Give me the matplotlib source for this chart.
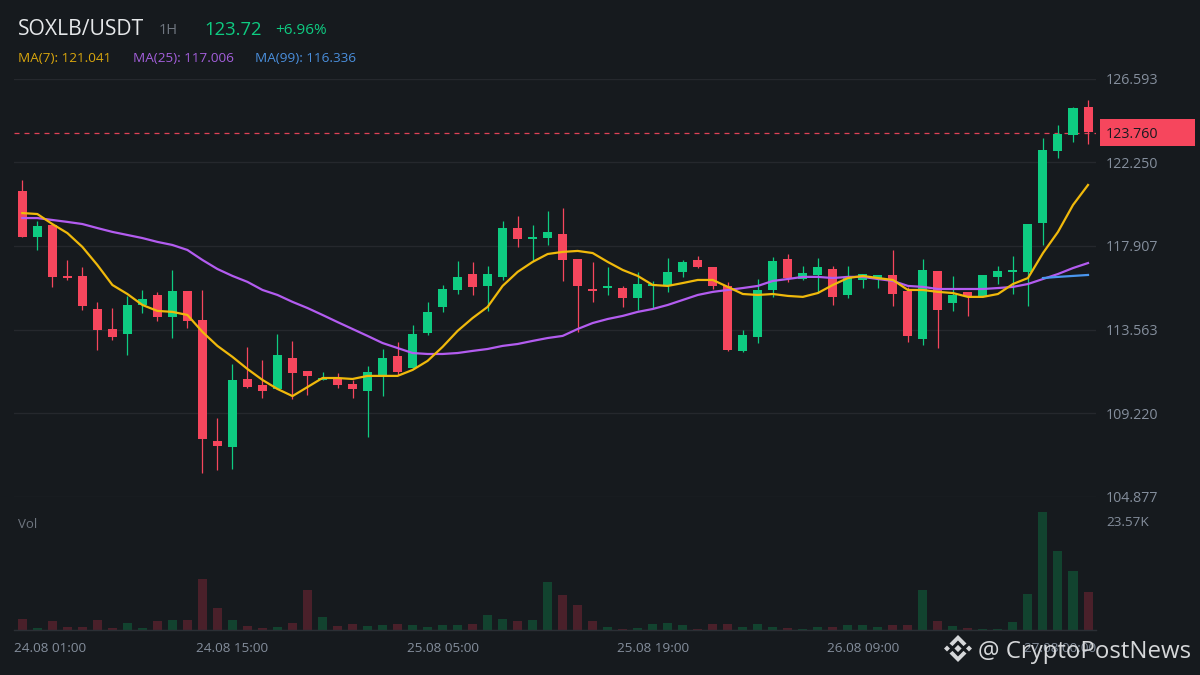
import matplotlib
matplotlib.use("Agg")
import matplotlib.pyplot as plt
from matplotlib.patches import Polygon, Rectangle

# ---------- data ----------
opens = [120.77,118.38,119.00,116.35,116.35,114.63,113.59,113.33,114.84,115.36,114.22,115.57,
         114.06,107.77,107.45,110.99,110.68,110.47,112.08,111.41,110.94,110.99,110.73,110.37,
         111.15,112.19,111.56,113.38,114.74,115.62,116.45,115.83,116.30,118.84,118.27,118.32,
         118.53,117.23,115.67,115.72,115.72,115.20,115.83,115.83,116.56,117.18,116.82,115.83,
         112.45,113.17,115.62,117.23,116.19,116.40,116.71,115.36,116.14,116.24,116.40,115.57,
         113.07,116.61,114.94,115.52,115.31,116.30,116.56,116.56,119.10,122.85,123.68,125.14]
highs = [121.34,119.21,119.00,117.18,116.82,115.00,114.68,115.31,115.62,115.52,116.66,115.57,
         115.62,108.96,111.77,112.66,111.98,113.33,112.97,111.41,111.35,111.30,110.94,111.67,
         112.55,112.91,113.80,115.00,115.88,117.13,117.08,116.87,119.21,119.47,119.00,119.73,
         119.88,117.23,117.08,116.82,115.83,116.56,116.09,117.28,117.18,117.39,116.82,116.04,
         113.54,116.19,117.34,117.49,116.87,117.28,116.87,116.87,116.45,116.40,117.70,115.78,
         117.23,116.61,116.35,115.52,116.40,116.87,117.39,119.05,123.52,124.20,125.14,125.50]
lows = [118.38,117.70,115.78,116.14,114.58,112.50,113.02,112.24,114.42,114.01,113.12,113.64,
        106.10,106.26,106.31,110.52,110.00,110.47,109.95,110.16,110.94,110.52,110.00,107.97,
        110.10,111.20,111.56,113.28,114.48,115.41,115.36,114.53,116.14,117.86,117.13,117.96,
        116.09,113.44,115.00,115.36,114.74,114.58,114.68,115.52,116.30,116.76,115.67,112.45,
        112.39,112.86,115.26,116.04,116.14,115.46,114.84,115.20,115.72,115.72,114.79,112.91,
        112.76,112.60,114.53,114.27,115.31,115.93,115.41,114.79,117.96,122.48,123.32,123.21]
closes = [118.38,118.95,116.30,116.24,114.79,113.54,113.17,114.84,115.15,114.22,115.57,114.01,
          107.87,107.51,110.94,110.57,110.37,112.24,111.30,111.15,111.04,110.68,110.47,111.35,
          112.08,111.35,113.33,114.48,115.67,116.30,115.78,116.45,118.84,118.27,118.38,118.64,
          117.18,115.83,115.57,115.83,115.20,115.93,115.93,116.56,117.08,116.82,115.83,112.50,
          113.28,115.62,117.13,116.24,116.50,116.82,115.26,116.30,116.45,116.40,115.41,113.23,
          116.66,114.58,115.36,115.31,116.40,116.61,116.66,119.05,122.90,123.73,125.08,123.84]
ma7 = [119.62,119.57,119.05,118.58,117.86,116.92,115.88,115.41,114.84,114.53,114.48,114.32,
       113.44,112.71,112.14,111.51,110.94,110.47,110.10,110.57,111.04,111.04,110.99,111.15,
       111.15,111.15,111.46,111.93,112.66,113.49,114.16,114.74,115.83,116.56,117.08,117.49,
       117.60,117.65,117.54,117.08,116.66,116.35,115.88,115.83,115.98,116.14,116.14,115.78,
       115.41,115.36,115.41,115.31,115.26,115.46,115.88,116.24,116.35,116.24,116.14,115.62,
       115.62,115.52,115.46,115.26,115.26,115.41,115.93,116.24,117.54,118.64,120.04,121.08]
ma25 = [119.36,119.36,119.26,119.16,119.05,118.84,118.64,118.48,118.32,118.12,117.96,117.70,
        117.18,116.71,116.35,116.04,115.62,115.36,115.00,114.68,114.32,113.95,113.59,113.23,
        112.86,112.60,112.34,112.29,112.29,112.34,112.45,112.55,112.71,112.81,112.97,113.12,
        113.23,113.59,113.90,114.11,114.27,114.48,114.63,114.84,115.10,115.36,115.52,115.62,
        115.72,115.83,116.09,116.19,116.30,116.30,116.24,116.30,116.30,116.19,116.09,115.83,
        115.78,115.67,115.67,115.67,115.67,115.72,115.78,115.93,116.19,116.45,116.76,117.02]
ma99_idx = [68, 69, 70, 71]
ma99 = [116.24,116.30,116.35,116.40]
volumes = [2.46,0.51,2.03,0.72,0.72,2.24,0.51,1.59,0.51,2.03,2.24,2.24,
           11.15,4.85,2.24,0.94,0.51,0.72,1.59,8.76,2.90,0.94,1.38,0.94,
           1.16,1.38,1.16,0.72,1.16,1.16,1.38,3.33,2.46,2.03,2.24,10.50,
           7.67,5.50,2.03,0.72,0.29,0.51,1.38,1.59,1.16,0.29,1.38,1.38,
           0.72,1.38,0.72,0.51,0.29,0.72,0.72,1.16,1.16,0.72,1.16,1.16,
           8.76,2.03,0.94,0.51,0.29,0.29,1.81,7.89,25.70,17.23,12.89,8.33]
price_ticks = [126.593,122.250,117.907,113.563,109.220,104.877]
last_price = 123.76
vol_tick = 23.57
time_labels = ["24.08 01:00","24.08 15:00","25.08 05:00","25.08 19:00","26.08 09:00","27.08 00:00"]
time_ticks = [0,14,28,42,56,70]

# ---------- style ----------
BG = "#161a1e"; GRID = "#25282d"; GREEN = "#0ecb81"; RED = "#f6465d"
VGREEN = "#12432f"; VRED = "#4a202a"; GREY = "#848e9c"
YEL = "#f0b90b"; PUR = "#b35cf0"; BLU = "#4a96ee"
plt.rcParams["font.family"] = ["Open Sans", "DejaVu Sans"]
W, H = 1200, 675
fig = plt.figure(figsize=(12, 6.75), dpi=100, facecolor=BG)

def axes_px(l, t, r, b, **kw):
    return fig.add_axes([l/W, 1-b/H, (r-l)/W, (b-t)/H], **kw)

n = len(opens)
XL, XR = (14-22.3)/15.01, (1096-22.3)/15.01
x = list(range(n))
up = [c >= o for o, c in zip(opens, closes)]
cols = [GREEN if u else RED for u in up]

# price pane
ax = axes_px(14, 79, 1096, 496.5, facecolor="none")
ax.set_xlim(XL, XR); ax.set_ylim(price_ticks[-1], price_ticks[0])
for s in ax.spines.values():
    s.set_visible(False)
ax.set_xticks([]); ax.set_yticks(price_ticks); ax.tick_params(length=0, labelleft=False)
ax.grid(axis="y", color=GRID, lw=1)
ax.set_axisbelow(True)
ax.axhline(last_price, color=RED, lw=0.9, dashes=(4, 4), alpha=0.9, zorder=1.5)
ax.vlines(x, lows, highs, colors=cols, lw=0.9, zorder=2)
ax.bar(x, [max(abs(c-o), 0.1) for o, c in zip(opens, closes)],
       bottom=[min(o, c) for o, c in zip(opens, closes)],
       width=0.6, color=cols, lw=0, zorder=3)
ax.plot(x, ma25, color=PUR, lw=1.6, zorder=4)
ax.plot(ma99_idx, ma99, color=BLU, lw=1.6, zorder=4)
ax.plot(x, ma7, color=YEL, lw=1.6, zorder=5)

# volume pane
vax = axes_px(14, 505, 1096, 630, facecolor="none")
vax.set_xlim(XL, XR); vax.set_ylim(0, 125*0.2172)
for k, s in vax.spines.items():
    s.set_visible(k == "bottom")
vax.spines["bottom"].set_color("#2b2f35")
vax.spines["bottom"].set_linewidth(1)
vax.set_xticks(time_ticks); vax.set_yticks([vol_tick]); vax.tick_params(length=0, labelleft=False, labelbottom=False)
vax.bar(x, volumes, width=0.6, color=[VGREEN if u else VRED for u in up], lw=0)

# overlay in pixel space: texts and decorations
ov = fig.add_axes([0, 0, 1, 1], facecolor="none")
ov.set_xlim(0, W); ov.set_ylim(H, 0); ov.axis("off")

def T(px, py, s, size, color, ha="left", **kw):
    ov.text(px, py, s, fontsize=size, color=color, ha=ha, va="center_baseline", **kw)

T(18, 27, "SOXLB/USDT", 15.2, "#e6e8ea")
T(159, 29, "1H", 10.5, "#6f7680")
T(204, 28, "123.72", 13.3, GREEN)
T(275, 29, "+6.96%", 11, GREEN)
T(18, 57, "MA(7): 121.041", 9.7, "#d9a60d")
T(133, 57, "MA(25): 117.006", 9.7, "#a45fdc")
T(255, 57, "MA(99): 116.336", 9.7, "#4a8fdd")
T(18, 523, "Vol", 9.5, "#6f7680")
for v in price_ticks:
    py = 79 + (price_ticks[0]-v)/(price_ticks[0]-price_ticks[-1])*417.5
    T(1106, py, f"{v:.3f}", 10.3, GREY)
ov.add_patch(Rectangle((1100, 119), 94.5, 26.5, color=RED, lw=0))
T(1106, 133, f"{last_price:.3f}", 10.3, "#181a20")
T(1106, 521, f"{vol_tick}K", 9.7, GREY)
for t, lab in zip(time_ticks, time_labels):
    px = 22.3 + 15.01*t
    if t == time_ticks[0]:
        T(14, 647, lab, 9.7, GREY)
    elif t == time_ticks[-1]:
        T(1096, 647, lab, 9.7, GREY, ha="right")
    else:
        T(px, 647, lab, 9.7, GREY, ha="center")

# watermark: Binance-style mark + handle
cx, cy, LOGO = 958, 648.5, "#d5d7d9"
def D(dx, dy, r):
    ov.add_patch(Polygon([(cx+dx-r, cy+dy), (cx+dx, cy+dy-r), (cx+dx+r, cy+dy), (cx+dx, cy+dy+r)], color=LOGO, lw=0))
D(0, 0, 3.6); D(-11, 0, 3); D(11, 0, 3)
for sgn in (-1, 1):
    ov.add_patch(Polygon([(cx-8.5, cy+sgn*5), (cx, cy+sgn*13.5), (cx+8.5, cy+sgn*5), (cx+5.5, cy+sgn*2.4),
                          (cx, cy+sgn*8), (cx-5.5, cy+sgn*2.4)], color=LOGO, lw=0))
T(978, 649, "@ CryptoPostNews", 17.3, LOGO)

fig.savefig("out.png", dpi=100, facecolor=BG)
